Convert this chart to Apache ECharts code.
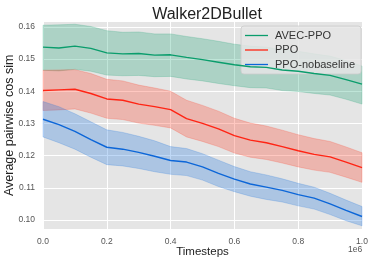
<!DOCTYPE html>
<html><head><meta charset="utf-8">
<script src="https://cdn.jsdelivr.net/npm/echarts@6/dist/echarts.min.js"></script>
<style>html,body{margin:0;padding:0;background:#fff}#c{width:374px;height:264px}</style>
</head><body><div id="c"></div>
<script>
const steps = [0,0.05,0.1,0.15,0.2,0.25,0.3,0.35,0.4,0.45,0.5,0.55,0.6,0.65,0.7,0.75,0.8,0.85,0.9,0.95,1.0];
const seriesNames = ['AVEC-PPO','PPO','PPO-nobaseline'];
const xTicks = [0,0.2,0.4,0.6,0.8,1.0];
const yTicks = [0.10,0.11,0.12,0.13,0.14,0.15,0.16];

const avecMean = [0.1537,0.1534,0.1540,0.1533,0.1519,0.1516,0.1517,0.1512,0.1513,0.1505,0.1498,0.1490,0.1482,0.1476,0.1474,0.1466,0.1462,0.1455,0.1449,0.1436,0.1422];
const avecHigh = [0.1605,0.1606,0.1608,0.1601,0.1588,0.1583,0.1584,0.1578,0.1578,0.1570,0.1563,0.1555,0.1546,0.1540,0.1537,0.1529,0.1524,0.1516,0.1509,0.1495,0.1478];
const avecLow  = [0.1465,0.1463,0.1468,0.1462,0.1450,0.1448,0.1449,0.1445,0.1446,0.1438,0.1432,0.1424,0.1417,0.1411,0.1410,0.1402,0.1399,0.1393,0.1388,0.1375,0.1360];

const ppoMean = [0.1402,0.1404,0.1406,0.1393,0.1376,0.1372,0.1360,0.1352,0.1343,0.1315,0.1300,0.1283,0.1262,0.1248,0.1240,0.1228,0.1215,0.1204,0.1196,0.1180,0.1163];
const ppoHigh = [0.1465,0.1466,0.1467,0.1455,0.1437,0.1432,0.1419,0.1410,0.1400,0.1372,0.1356,0.1338,0.1316,0.1301,0.1292,0.1279,0.1265,0.1253,0.1244,0.1227,0.1209];
const ppoLow  = [0.1340,0.1342,0.1345,0.1332,0.1316,0.1312,0.1301,0.1294,0.1286,0.1258,0.1244,0.1228,0.1208,0.1195,0.1188,0.1177,0.1165,0.1155,0.1148,0.1133,0.1117];

const nobMean = [0.1313,0.1296,0.1275,0.1250,0.1226,0.1220,0.1210,0.1198,0.1185,0.1180,0.1165,0.1145,0.1127,0.1112,0.1102,0.1092,0.1079,0.1068,0.1050,0.1030,0.1011];
const nobHigh = [0.1368,0.1352,0.1330,0.1305,0.1280,0.1272,0.1260,0.1246,0.1228,0.1222,0.1206,0.1186,0.1166,0.1150,0.1140,0.1128,0.1114,0.1102,0.1083,0.1062,0.1042];
const nobLow  = [0.1258,0.1240,0.1220,0.1195,0.1172,0.1168,0.1160,0.1150,0.1142,0.1138,0.1124,0.1104,0.1088,0.1074,0.1064,0.1056,0.1044,0.1034,0.1017,0.0998,0.0982];

const lineColors = ['#0a9d6c','#ff2414','#0c66d8'];
const bandColors = ['rgba(18,160,110,0.27)','rgba(255,50,25,0.27)','rgba(20,110,220,0.27)'];
const edgeColors = ['rgba(18,160,110,0.35)','rgba(255,50,25,0.35)','rgba(20,110,220,0.35)'];

const FONT = 'Liberation Sans';
const groups = [[avecMean,avecHigh,avecLow],[ppoMean,ppoHigh,ppoLow],[nobMean,nobHigh,nobLow]];
const series = [];
groups.forEach((g,i)=>{
  const [m,h,l] = g;
  series.push({type:'custom',silent:true,z:1+i,
    data:steps.map((x,k)=>[x,l[k],h[k]]),
    encode:{x:0,y:[1,2]},
    renderItem:(params,api)=>{
      if(params.dataIndex!==0) return null;
      const up=[],lo=[];
      steps.forEach((x,k)=>{up.push(api.coord([x,h[k]]));lo.push(api.coord([x,l[k]]));});
      const pts=up.concat(lo.reverse());
      return {type:'polygon',shape:{points:pts},
        style:{fill:bandColors[i],stroke:edgeColors[i],lineWidth:0.6}};
    }});
});
groups.forEach((g,i)=>{
  series.push({name:seriesNames[i],type:'line',data:steps.map((x,k)=>[x,g[0][k]]),symbol:'none',
    lineStyle:{width:1.4,color:lineColors[i]},itemStyle:{color:lineColors[i]},z:10});
});

const chart = echarts.init(document.getElementById('c'),null,{renderer:'canvas'});
chart.setOption({
  animation:false,
  backgroundColor:'#fff',
  textStyle:{fontFamily:FONT},
  title:{text:'Walker2DBullet',left:202,top:2,textAlign:'center',
    textStyle:{fontFamily:FONT,fontSize:16,fontWeight:'normal',color:'#222'}},
  legend:{data:seriesNames,orient:'vertical',left:241,top:26,width:117,
    backgroundColor:'rgba(229,229,229,0.85)',borderColor:'#cccccc',borderWidth:0.8,borderRadius:3,
    padding:[4,6,4,4],itemGap:3.5,itemWidth:23,itemHeight:11,
    icon:'path://M0,5 L23,5 L23,6.3 L0,6.3 Z',
    textStyle:{fontFamily:FONT,fontSize:11,color:'#333',padding:[0,0,0,2]}},
  grid:{left:43,right:12,top:21,bottom:34.3,backgroundColor:'#e5e5e5',show:true,borderWidth:0,
    containLabel:false,outerBoundsMode:'none'},
  xAxis:{type:'value',min:0,max:1,interval:0.2,
    name:'Timesteps',nameLocation:'middle',nameGap:16.5,nameMoveOverlap:false,
    nameTextStyle:{fontFamily:FONT,fontSize:11.5,color:'#222'},
    axisLine:{show:false},axisTick:{show:false},
    axisLabel:{fontFamily:FONT,fontSize:8.5,color:'#555',margin:7,formatter:v=>v.toFixed(1)},
    splitLine:{show:true,lineStyle:{color:'#ffffff',width:1}}},
  yAxis:{type:'value',min:0.097,max:0.1618,
    name:'Average pairwise cos sim',nameLocation:'middle',nameGap:26.5,nameMoveOverlap:false,
    nameTextStyle:{fontFamily:FONT,fontSize:12.5,color:'#222'},
    axisLine:{show:false},axisTick:{show:false},
    axisLabel:{fontFamily:FONT,fontSize:8.5,color:'#555',margin:8,
      formatter:v=>{const t=yTicks.find(y=>Math.abs(y-v)<1e-6);return t!==undefined?t.toFixed(2):'';}},
    splitLine:{show:true,lineStyle:{color:'#ffffff',width:1}}},
  graphic:[{type:'text',left:348,top:245,style:{text:'1e6',fontFamily:FONT,fontSize:8.5,fill:'#555'}}],
  series:series
});
</script></body></html>
